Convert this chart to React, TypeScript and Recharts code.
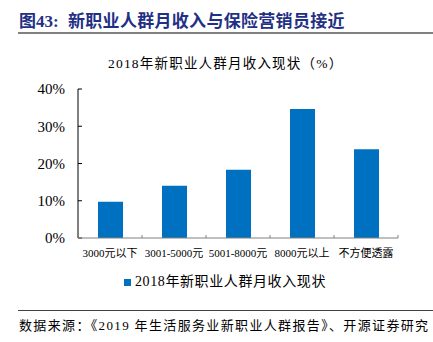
import { BarChart, Bar, XAxis, YAxis, Legend } from 'recharts';

const categories = ['3000元以下', '3001-5000元', '5001-8000元', '8000元以上', '不方便透露'];
const incomeShare = [9.7, 14.0, 18.3, 34.6, 23.8];
const yTicks = [0, 10, 20, 30, 40];
const seriesName = '2018年新职业人群月收入现状';

const data = categories.map((name, i) => ({ name, value: incomeShare[i] }));

const serif = '"Liberation Serif", "Times New Roman", "Noto Sans CJK SC", serif';

// category label plus a small inward tick at each band boundary
function CategoryTick(props: any) {
  const { x, y, payload, index, visibleTicksCount, width } = props;
  const band = width / visibleTicksCount;
  const left = x - band / 2;
  return (
    <g>
      <line x1={left} x2={left} y1={y} y2={y - 3} stroke="#808080" />
      {index === visibleTicksCount - 1 && (
        <line x1={x + band / 2} x2={x + band / 2} y1={y} y2={y - 3} stroke="#808080" />
      )}
      <text x={x} y={y + 19} textAnchor="middle" fontSize={11} fill="#000" fontFamily={serif}>
        {payload.value}
      </text>
    </g>
  );
}

export default function App() {
  const titleStyle = { position: 'absolute' as const, top: 7, fontSize: 17, fontWeight: 'bold' as const, color: '#1F3085', whiteSpace: 'nowrap' as const };
  return (
    <div style={{ position: 'absolute', left: 0, top: 0, width: 433, height: 342, background: '#fff', fontFamily: serif }}>
      <div style={{ ...titleStyle, left: 19 }}>图43:</div>
      <div style={{ ...titleStyle, left: 68, letterSpacing: 0.3 }}>新职业人群月收入与保险营销员接近</div>
      <div style={{ position: 'absolute', left: 18, right: 0, top: 32, height: 2, background: '#808080' }} />
      <div style={{ position: 'absolute', left: 108, top: 52, fontSize: 13.5, letterSpacing: 1.2, color: '#000', whiteSpace: 'nowrap' }}>
        2018年新职业人群月收入现状（%）
      </div>

      <BarChart width={433} height={342} data={data} margin={{ top: 89, right: 35, bottom: 74, left: 18 }}>
        <YAxis
          width={60}
          domain={[0, 40]}
          ticks={yTicks}
          tickFormatter={(v) => `${v}%`}
          axisLine={{ stroke: '#000' }}
          tickLine={{ stroke: '#000' }}
          tickSize={-4}
          tickMargin={17}
          tick={{ fill: '#000', fontSize: 15, fontFamily: serif }}
        />
        <XAxis
          dataKey="name"
          height={30}
          axisLine={{ stroke: '#808080' }}
          tickLine={false}
          tickSize={0}
          tickMargin={0}
          interval={0}
          tick={<CategoryTick />}
        />
        <Legend
          layout="vertical"
          align="center"
          verticalAlign="middle"
          iconType="square"
          iconSize={7}
          wrapperStyle={{ left: 124, top: 273, width: 240, fontSize: 14, letterSpacing: 0.6, fontFamily: serif, lineHeight: '18px' }}
          formatter={(value) => <span style={{ color: '#000' }}>{value}</span>}
        />
        <Bar dataKey="value" name={seriesName} fill="#0070C0" barSize={25} isAnimationActive={false} />
      </BarChart>

      <div style={{ position: 'absolute', left: 18, right: 0, top: 310, height: 1, background: '#404040' }} />
      <div style={{ position: 'absolute', left: 19, top: 315, fontSize: 13, letterSpacing: 1.35, color: '#000', whiteSpace: 'nowrap' }}>
        数据来源：《2019 年生活服务业新职业人群报告》、开源证券研究
      </div>
    </div>
  );
}
